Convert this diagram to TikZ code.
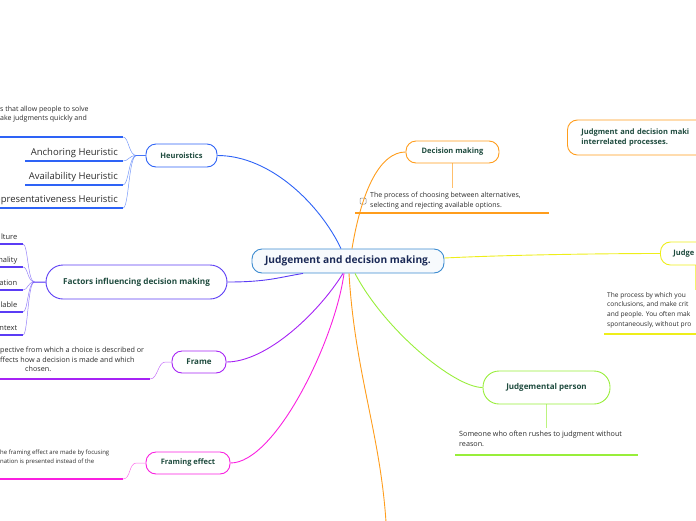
\documentclass[tikz,border=0pt]{standalone}
\usepackage{fontspec}
\setmainfont{Open Sans}
\definecolor{centerblue}{HTML}{3C8BD0}
\definecolor{centertext}{HTML}{1B2A57}
\definecolor{heublue}{HTML}{2E63F6}
\definecolor{facviolet}{HTML}{5B3CF5}
\definecolor{framepurple}{HTML}{A623F5}
\definecolor{fxpink}{HTML}{FA1FE0}
\definecolor{dmorange}{HTML}{FF9D1C}
\definecolor{jdyellow}{HTML}{EEEE1A}
\definecolor{jplime}{HTML}{98EE3A}
\definecolor{titlegreen}{HTML}{1E4B3E}
\definecolor{notegray}{HTML}{2B2B2B}
\tikzset{
  topic/.style={draw,line width=0.9pt,rounded corners=10pt,fill=white,text=titlegreen,
    font=\bfseries\fontsize{7.5}{10}\selectfont,inner sep=0pt},
  note/.style={text=notegray,font=\fontsize{7}{9.6}\selectfont,align=left,inner sep=0pt},
  leaftext/.style={text=notegray,font=\fontsize{9.5}{11}\selectfont,inner sep=0pt},
  branch/.style={line width=0.9pt},
  twig/.style={line width=0.5pt,opacity=0.65},
  rule/.style={line width=1.1pt}
}

\begin{document}
\begin{tikzpicture}[x=1pt,y=-1pt]
  \useasboundingbox (0,0) rectangle (696,520);
  \clip (0,0) rectangle (696,520);

  % main topic
  \node[topic,draw=centerblue,fill=centerblue!4,text=centertext,font=\bfseries\fontsize{10.2}{12}\selectfont,
    minimum width=192pt,minimum height=24pt] (ctr) at (348,261) {Judgement and decision making.};

  % Heuroistics and its leaves
  \node[topic,draw=heublue,minimum width=71pt,minimum height=23pt] (heu) at (181.5,155.5) {Heuroistics};
  \node[note,anchor=north west,font=\fontsize{7}{9}\selectfont] (heunote) at (0,106)
    {s that allow people to solve\\ake judgments quickly and};
  \draw[rule,heublue] (0,137) -- (123,137) coordinate (heunote-end);
  \foreach \x/\y/\t/\n in {25/161/Anchoring Heuristic/anc,25/185/Availability Heuristic/avl,0/208/Representativeness Heuristic/rep} {
    \node[leaftext,anchor=base east] (\n) at (118,\y-5.5) {\t};
    \draw[rule,heublue] (\x,\y) -- (123,\y) coordinate (\n-end);
  }
  \foreach \n in {heunote,anc,avl,rep}
    \draw[twig,heublue] (heu.west) -- ++(-9,0) .. controls +(-8,0) and +(6,0) .. (\n-end);

  % Factors and its leaves
  \node[topic,draw=facviolet,rounded corners=17pt,font=\bfseries\fontsize{8.2}{10}\selectfont,
    minimum width=181pt,minimum height=34pt] (fac) at (136.5,282) {Factors influencing decision making};
  \foreach \y/\t/\n in {244/lture/cul,267/nality/pers,290/ation/situ,312/lable/time,335/ntext/cont} {
    \node[note,anchor=base east,font=\fontsize{7.5}{9}\selectfont] (\n) at (17.5,\y-5) {\t};
    \draw[rule,facviolet] (0,\y) -- (23,\y) coordinate (\n-end);
  }
  \foreach \n in {cul,pers,situ,time,cont}
    \draw[twig,facviolet] (fac.west) -- ++(-11,0) .. controls +(-7,0) and +(5,0) .. (\n-end);

  % Frame
  \node[topic,draw=framepurple,font=\bfseries\fontsize{8}{10}\selectfont,minimum width=54pt,minimum height=22pt] (frm) at (199,362) {Frame};
  \node[note,anchor=north west,font=\fontsize{7.2}{9.4}\selectfont] (frmnote) at (0,347)
    {pective from which a choice is described or\\ffects how a decision is made and which\\\hspace*{25pt}chosen.};
  \draw[rule,framepurple] (0,379) -- (150,379) coordinate (frmnote-end);
  \draw[twig,framepurple] (frm.west) -- ++(-6,0) .. controls +(-8,0) and +(8,0) .. (frmnote-end);

  % Framing effect
  \node[topic,draw=fxpink,minimum width=84pt,minimum height=22pt] (fx) at (188,463) {Framing effect};
  \node[note,anchor=north west,font=\fontsize{6}{9}\selectfont] (fxnote) at (0,450)
    {he framing effect are made by focusing\\nation is presented instead of the};
  \draw[rule,fxpink] (0,479) -- (123,479) coordinate (fxnote-end);
  \draw[twig,fxpink] (fx.west) -- ++(-9,0) .. controls +(-8,0) and +(8,0) .. (fxnote-end);

  % Decision making
  \node[topic,draw=dmorange,minimum width=93pt,minimum height=22pt] (dm) at (452.5,152) {Decision making};
  \coordinate (dmnote-top) at (452.5,188);
  \node[draw=gray,line width=0.5pt,rounded corners=1pt,minimum size=6pt,inner sep=0pt] (chk) at (363,201) {};
  \node[note,anchor=north west] (dmnote) at (370,192)
    {The process of choosing between alternatives,\\selecting and rejecting available options.};
  \draw[rule,dmorange] (355,213) -- (549,213);
  \draw[twig,dmorange] (dm.south) -- (dmnote-top);

  % floating topic
  \node[topic,draw=dmorange,anchor=west,minimum height=35pt,text width=130pt,align=left,inner xsep=14pt] (jdm) at (567,137.5)
    {Judgment and decision maki\\interrelated processes.};

  % Judge
  \node[topic,draw=jdyellow,anchor=west,minimum height=23pt,text width=50pt,align=left,inner xsep=13pt] (jdg) at (660,253.5) {Judge};
  \coordinate (jdgnote-top) at (695.5,290);
  \node[note,anchor=north west,font=\fontsize{6.6}{9.6}\selectfont] (jdgnote) at (607,292)
    {The process by which you\\conclusions, and make crit\\and people. You often mak\\spontaneously, without pro};
  \draw[rule,jdyellow] (604,334) -- (696,334);
  \draw[twig,jdyellow] (jdgnote-top |- jdg.south) -- (jdgnote-top);

  % Judgemental person
  \node[topic,draw=jplime,rounded corners=16pt,font=\bfseries\fontsize{8}{10}\selectfont,minimum width=127pt,minimum height=33pt] (jp) at (546.5,387.5) {Judgemental person};
  \coordinate (jpnote-top) at (546.5,428);
  \node[note,anchor=north west,font=\fontsize{7.2}{10}\selectfont] (jpnote) at (459,431)
    {Someone who often rushes to judgment without\\reason.};
  \draw[rule,jplime] (455,455) -- (638,455);
  \draw[twig,jplime] (jp.south) -- (jpnote-top);

  \coordinate (below) at (386,522);

  % branches from the main topic
  \draw[branch,heublue] (heu.east) .. controls +(53,0) and +(-21,-44) .. ([xshift=-7pt]ctr.north);
  \draw[branch,dmorange] (dm.west) .. controls +(-25,0) and +(10,-60) .. ([xshift=4pt]ctr.north);
  \draw[branch,jdyellow] ([yshift=3pt]ctr.east) .. controls +(60,-3) and +(-60,0) .. (jdg.west);
  \draw[branch,facviolet] (fac.east) .. controls +(40,0) and +(-25,4) .. ([xshift=-45pt]ctr.south);
  \draw[branch,framepurple] (frm.east) .. controls +(40,0) and +(-25,40) .. ([xshift=-5pt]ctr.south);
  \draw[branch,fxpink] (fx.east) .. controls +(45,0) and +(-9,67) .. ([xshift=-4pt]ctr.south);
  \draw[branch,dmorange] ([xshift=1pt]ctr.south) .. controls +(6,100) and +(-6,-90) .. (below);
  \draw[branch,jplime] (jp.west) .. controls +(-28,0) and +(30,57) .. ([xshift=7pt]ctr.south);
\end{tikzpicture}
\end{document}
